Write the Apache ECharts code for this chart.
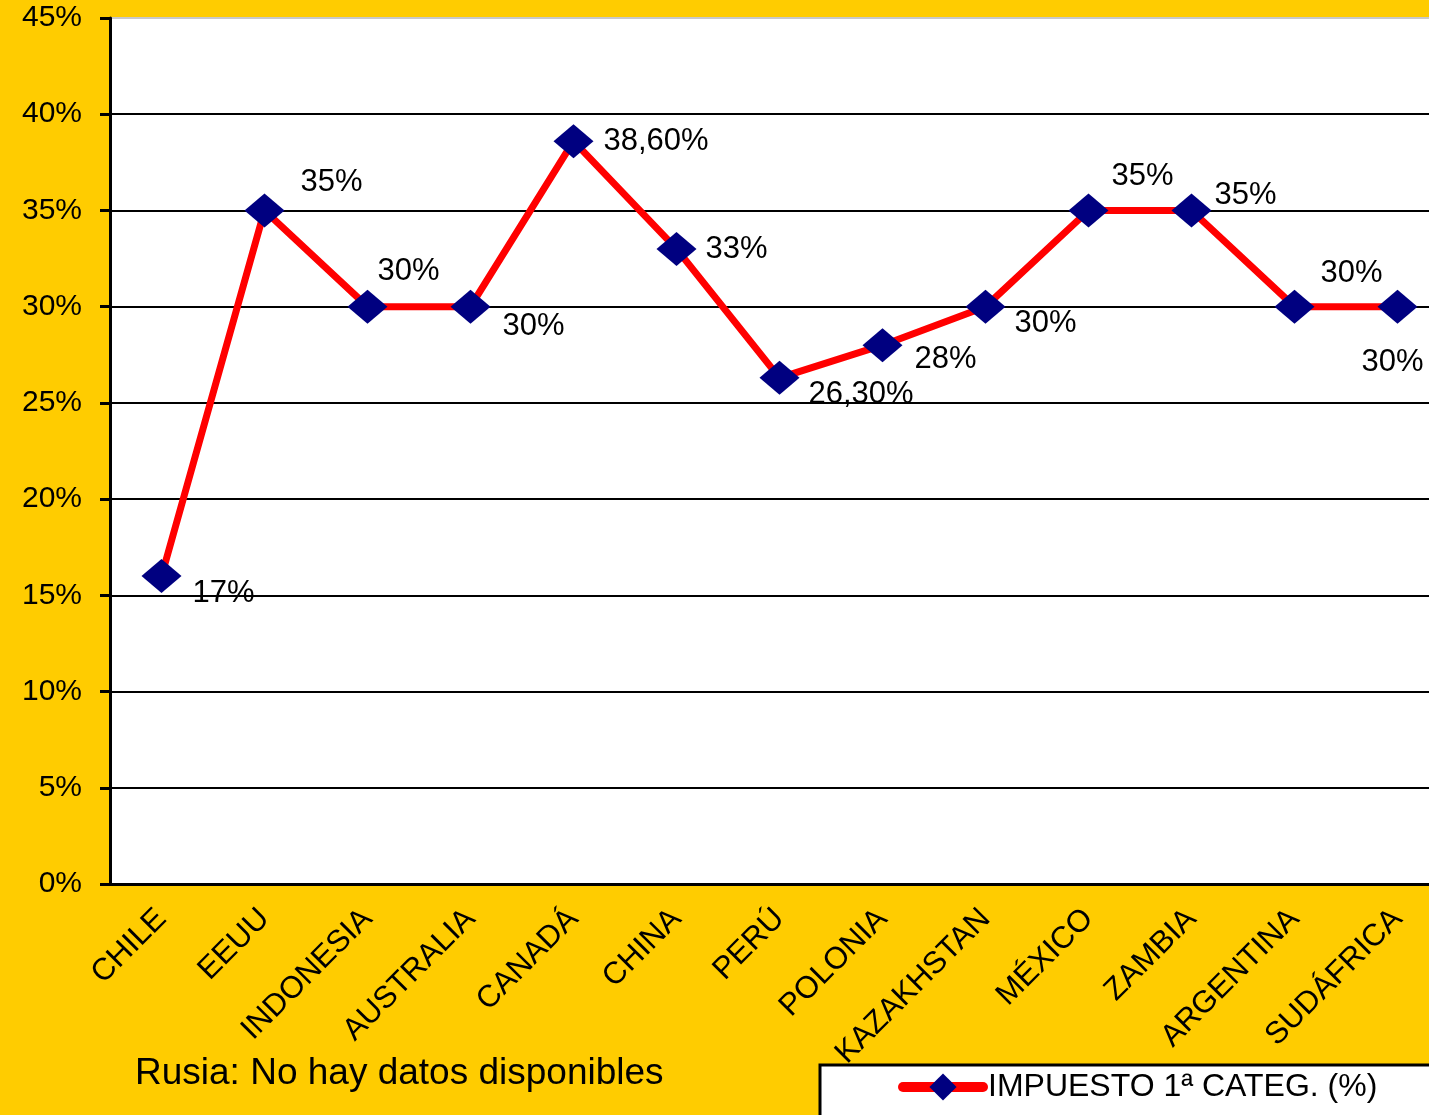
<!DOCTYPE html>
<html>
<head>
<meta charset="utf-8">
<script src="https://cdn.jsdelivr.net/npm/echarts@6/dist/echarts.min.js"></script>
<style>
  html, body { margin: 0; padding: 0; background: #FFCC00; overflow: hidden; }
  #main { width: 1449px; height: 1115px; }
</style>
</head>
<body>
<div id="main"></div>
<script>
// datos
var paises = ['CHILE', 'EEUU', 'INDONESIA', 'AUSTRALIA', 'CANADÁ', 'CHINA', 'PERÚ',
    'POLONIA', 'KAZAKHSTAN', 'MÉXICO', 'ZAMBIA', 'ARGENTINA', 'SUDÁFRICA'];
var impuesto = [16, 35, 30, 30, 38.6, 33, 26.3, 28, 30, 35, 35, 30, 30];
var etiquetas = ['17%', '35%', '30%', '30%', '38,60%', '33%', '26,30%', '28%', '30%',
    '35%', '35%', '30%', '30%'];
var yTicks = [0, 5, 10, 15, 20, 25, 30, 35, 40, 45];

// donde va cada etiqueta respecto al punto
var desplaz = [[31, 17], [36, -28], [10, -35], [32, 20], [30, 0], [29, 1], [29, 17],
    [32, 14], [29, 17], [23, -34], [23, -15], [26, -33], [-36, 56]];

var font = 'Liberation Sans, Arial, sans-serif';

function show_chart(){
    var myChart = echarts.init(document.getElementById('main'));

    var puntos = [];
    for (var i = 0; i < impuesto.length; i++) {
        puntos.push({
            value: impuesto[i],
            label: {offset: desplaz[i]}
        });
    }

    var gridColors = [];
    for (var k = 0; k < yTicks.length; k++) {
        gridColors.push(k == yTicks.length - 1 ? '#c8c8c8' : '#000');
    }

    var option = {
        backgroundColor: '#FFCC00',
        animation: false,
        grid: {
            left: 110,
            top: 18,
            right: 0,
            bottom: 231,
            show: true,
            backgroundColor: '#fff',
            borderWidth: 0
        },
        legend: {
            data: ['IMPUESTO 1ª CATEG. (%)'],
            left: 820,
            top: 1065,
            backgroundColor: '#fff',
            borderColor: '#000',
            borderWidth: 3,
            borderRadius: 0,
            padding: [6, 60, 30, 78],
            itemWidth: 80,
            itemHeight: 34,
            itemGap: 5,
            lineStyle: {width: 10, cap: 'round'},
            textStyle: {fontFamily: font, fontSize: 32, color: '#000'}
        },
        graphic: [{
            type: 'text',
            left: 135,
            top: 1055,
            style: {
                text: 'Rusia: No hay datos disponibles',
                font: '37px ' + font,
                fill: '#000'
            }
        }],
        xAxis: {
            type: 'category',
            data: paises,
            axisLine: {lineStyle: {color: '#000', width: 3}},
            axisTick: {length: 8, lineStyle: {color: '#000', width: 2}},
            axisLabel: {
                rotate: 45,
                margin: 30,
                interval: 0,
                fontFamily: font,
                fontSize: 31,
                color: '#000'
            }
        },
        yAxis: {
            type: 'value',
            min: 0,
            max: 45,
            interval: 5,
            axisLine: {show: true, lineStyle: {color: '#000', width: 3}},
            axisTick: {show: true, length: 10, lineStyle: {color: '#000', width: 3}},
            axisLabel: {
                formatter: '{value}%',
                margin: 28,
                fontFamily: font,
                fontSize: 30,
                color: '#000'
            },
            splitLine: {lineStyle: {color: gridColors, width: 2}}
        },
        series: [{
            name: 'IMPUESTO 1ª CATEG. (%)',
            type: 'line',
            data: puntos,
            symbol: 'diamond',
            symbolSize: [40, 34],
            lineStyle: {color: '#FF0000', width: 7},
            itemStyle: {color: '#000080'},
            label: {
                show: true,
                position: 'inside',
                align: 'left',
                verticalAlign: 'middle',
                fontFamily: font,
                fontSize: 31,
                color: '#000',
                formatter: function(p){
                    return etiquetas[p.dataIndex];
                }
            }
        }]
    };
    myChart.setOption(option);
}

show_chart();
</script>
</body>
</html>
